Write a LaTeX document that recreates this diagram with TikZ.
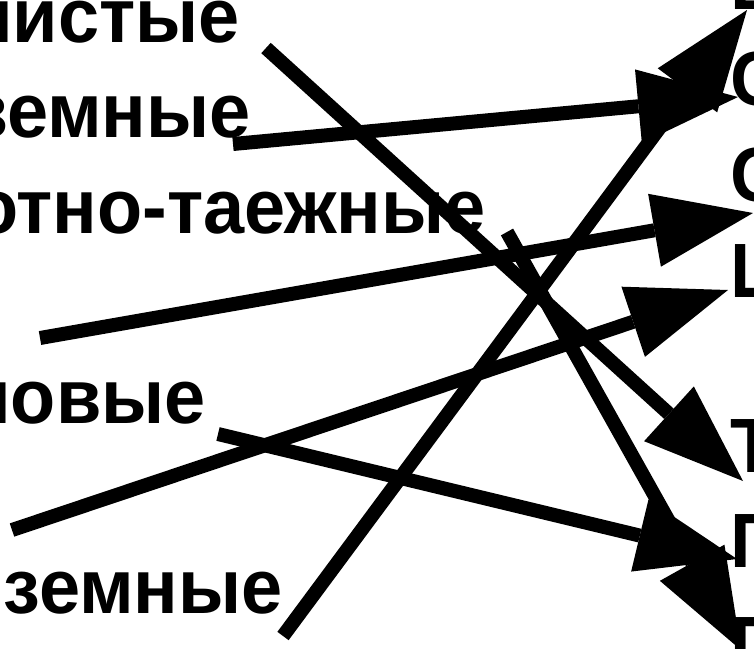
\documentclass[tikz,border=0pt]{standalone}
\usepackage{fontspec}
\setmainfont[FakeStretch=0.96]{Liberation Sans}
\usetikzlibrary{arrows.meta}
\begin{document}
\begin{tikzpicture}[x=1pt,y=-1pt,
  lbl/.style={anchor=base east, inner sep=0pt, font=\fontsize{77}{80}\selectfont\bfseries},
  rlbl/.style={anchor=base west, inner sep=0pt, font=\fontsize{77}{80}\selectfont\bfseries},
  arr/.style={line width=14pt, -{Triangle[length=100pt,width=74pt,line width=0pt]}}]
\useasboundingbox (0,0) rectangle (754,648);
\clip (0,0) rectangle (754,648);
\fill[white] (0,0) rectangle (754,648);
% left labels
\node[lbl] (l1) at (240,42) {нистые};
\node[lbl] (l2) at (251,137) {земные};
\node[lbl] (l3) at (486,233) {отно-таежные};
\node[lbl] (l5) at (206,423) {новые};
\node[lbl] (l7) at (283,613) {земные};
% right labels
\node[rlbl] (r1) at (730,9) {Е};
\node[rlbl] (r2) at (730,105) {С};
\node[rlbl] (r3) at (730,201) {С};
\node[rlbl] (r4) at (730,297) {Ш};
\node[rlbl] (r5) at (730,472) {Т};
\node[rlbl] (r6) at (730,567) {П};
\node[rlbl] (r7) at (730,670) {П};
% arrow ends
\coordinate (a1) at (266,48);  \coordinate (a2) at (743,481);
\coordinate (b1) at (233,144); \coordinate (b2) at (738,97);
\coordinate (c1) at (40,338);  \coordinate (c2) at (753,213);
\coordinate (d1) at (12,530);  \coordinate (d2) at (728,290);
\coordinate (e1) at (218,434); \coordinate (e2) at (737,559);
\coordinate (f1) at (283,636); \coordinate (f2) at (747,10);
\coordinate (g1) at (507,232); \coordinate (g2) at (741,650);
\draw[arr] (a1) -- (a2);
\draw[arr] (b1) -- (b2);
\draw[arr] (c1) -- (c2);
\draw[arr] (d1) -- (d2);
\draw[arr] (e1) -- (e2);
\draw[arr] (f1) -- (f2);
\draw[arr] (g1) -- (g2);
\end{tikzpicture}
\end{document}
